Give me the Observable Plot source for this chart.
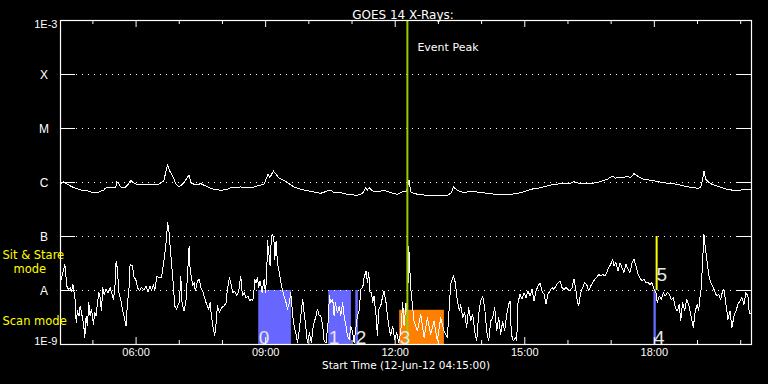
<!DOCTYPE html>
<html><head><meta charset="utf-8">
<script src="https://cdn.jsdelivr.net/npm/d3@7"></script>
<script src="https://cdn.jsdelivr.net/npm/@observablehq/plot@0.6"></script>
<style>html,body{margin:0;padding:0;background:#000;overflow:hidden;}</style>
</head><body><div id="chart"></div>
<script>
const titleText = "GOES 14 X-Rays:";
const xTitle = "Start Time (12-Jun-12 04:15:00)";
const hourDomain = [4.25, 20.25];
const majorTickHours = [6, 9, 12, 15, 18];
const majorTickLabels = ["06:00", "09:00", "12:00", "15:00", "18:00"];
const minorTickHours = [5, 7, 8, 10, 11, 13, 14, 16, 17, 19, 20];
const decadeFlux = [1e-9, 1e-8, 1e-7, 1e-6, 1e-5, 1e-4, 1e-3];
const decadeLabels = ["1E-9", "A", "B", "C", "M", "X", "1E-3"];

// [hour UT, log10 flux]
const longChannel = [
[4.257,-6.033],[4.326,-5.985],[4.396,-6.028],[4.558,-6.096],[4.72,-6.139],[4.882,-6.157],[5.021,-6.189],[5.113,-6.189],
[5.183,-6.157],[5.252,-6.148],[5.275,-6.107],[5.414,-6.083],[5.484,-6.089],[5.53,-6.083],[5.553,-5.985],[5.6,-6.028],
[5.646,-6.083],[5.739,-6.096],[5.808,-6.046],[5.877,-5.959],[5.947,-6.009],[6.039,-6.046],[6.109,-6.046],[6.34,-6.046],
[6.502,-6.046],[6.572,-6.004],[6.641,-5.972],[6.727,-5.676],[6.78,-5.787],[6.849,-5.880],[6.919,-6.028],[6.988,-6.083],
[7.081,-6.028],[7.227,-5.861],[7.266,-6.004],[7.382,-6.046],[7.498,-6.022],[7.66,-6.083],[7.799,-6.126],[7.961,-6.144],
[8.123,-6.126],[8.192,-6.096],[8.424,-6.083],[8.586,-6.096],[8.725,-6.083],[8.887,-6.046],[8.956,-6.046],[9.056,-5.848],
[9.095,-5.911],[9.181,-5.787],[9.303,-5.911],[9.512,-6.004],[9.651,-6.083],[9.812,-6.126],[10.12,-6.176],[10.276,-6.2],
[10.43,-6.157],[10.507,-6.144],[10.583,-6.189],[10.738,-6.189],[10.894,-6.219],[11.125,-6.237],[11.241,-6.207],[11.317,-6.096],
[11.356,-6.144],[11.394,-6.096],[11.472,-6.157],[11.588,-6.170],[11.741,-6.144],[11.896,-6.189],[12.051,-6.219],[12.167,-6.170],
[12.266,-6.157],[12.319,-5.959],[12.359,-6.170],[12.435,-6.207],[12.667,-6.231],[12.898,-6.25],[13.208,-6.237],[13.301,-6.189],
[13.347,-6.083],[13.44,-6.144],[13.593,-6.189],[13.748,-6.157],[13.903,-6.176],[14.134,-6.2],[14.442,-6.231],[14.674,-6.219],
[14.905,-6.189],[15.137,-6.126],[15.368,-6.096],[15.6,-6.046],[15.831,-6.022],[16.063,-6.015],[16.139,-5.985],[16.294,-6.022],
[16.525,-6.015],[16.681,-6.004],[16.796,-5.972],[16.912,-5.941],[17.028,-5.880],[17.104,-5.922],[17.181,-5.898],[17.296,-5.911],
[17.375,-5.880],[17.451,-5.911],[17.528,-5.837],[17.644,-5.898],[17.759,-5.941],[17.914,-5.959],[18.222,-6.004],[18.532,-6.033],
[18.764,-6.078],[18.995,-6.107],[19.072,-6.096],[19.111,-5.972],[19.148,-5.787],[19.188,-5.941],[19.303,-6.022],[19.458,-6.065],
[19.69,-6.126],[19.921,-6.157],[20.074,-6.126],[20.229,-6.126]
];

const shortChannel = [
[4.257,-7.824],[4.296,-7.700],[4.350,-7.515],[4.396,-7.916],[4.427,-7.978],[4.473,-7.947],[4.504,-8.027],[4.535,-7.885],
[4.566,-8.040],[4.597,-8.225],[4.612,-8.595],[4.643,-8.379],[4.681,-8.472],[4.705,-8.287],[4.735,-8.410],[4.766,-8.534],
[4.797,-8.719],[4.813,-8.873],[4.843,-8.472],[4.874,-8.657],[4.905,-8.225],[4.936,-8.472],[4.967,-8.348],[5.013,-8.626],
[5.044,-8.410],[5.075,-8.472],[5.106,-8.225],[5.137,-8.040],[5.167,-8.132],[5.198,-8.379],[5.229,-7.947],[5.260,-8.071],
[5.306,-7.978],[5.353,-8.040],[5.399,-7.947],[5.453,-8.101],[5.476,-8.163],[5.507,-7.978],[5.538,-7.453],[5.569,-7.608],
[5.600,-8.040],[5.646,-8.163],[5.684,-8.348],[5.723,-8.472],[5.769,-8.657],[5.800,-8.225],[5.831,-8.040],[5.862,-7.515],
[5.916,-7.546],[5.954,-7.762],[5.993,-7.793],[6.032,-7.947],[6.078,-8.009],[6.124,-7.947],[6.186,-7.990],[6.232,-7.916],
[6.279,-8.027],[6.325,-7.916],[6.356,-8.009],[6.402,-7.885],[6.433,-8.009],[6.479,-7.731],[6.533,-7.762],[6.587,-7.762],
[6.618,-7.608],[6.664,-7.330],[6.711,-6.990],[6.726,-6.743],[6.757,-6.867],[6.788,-7.176],[6.826,-7.546],[6.865,-7.916],
[6.896,-8.287],[6.942,-8.348],[6.973,-8.256],[7.004,-8.225],[7.035,-7.731],[7.066,-8.256],[7.112,-8.379],[7.158,-8.163],
[7.189,-7.731],[7.228,-7.176],[7.251,-7.608],[7.282,-7.762],[7.313,-7.916],[7.343,-7.855],[7.374,-8.009],[7.421,-7.824],
[7.467,-7.793],[7.498,-7.947],[7.544,-8.009],[7.575,-8.101],[7.621,-8.225],[7.652,-8.287],[7.683,-8.348],[7.714,-8.225],
[7.745,-8.472],[7.791,-8.719],[7.822,-8.842],[7.853,-8.595],[7.884,-8.287],[7.930,-8.410],[7.976,-8.318],[8.038,-8.287],
[8.084,-8.225],[8.115,-7.978],[8.161,-7.762],[8.192,-7.855],[8.238,-8.040],[8.285,-8.009],[8.331,-8.101],[8.377,-8.009],
[8.424,-7.731],[8.463,-8.101],[8.501,-8.040],[8.547,-8.132],[8.594,-8.101],[8.625,-8.194],[8.671,-8.163],[8.702,-8.194],
[8.733,-7.978],[8.748,-7.793],[8.779,-7.855],[8.810,-7.762],[8.841,-7.947],[8.872,-7.824],[8.918,-8.040],[8.964,-7.793],
[8.995,-8.040],[9.026,-7.731],[9.041,-7.083],[9.072,-7.299],[9.103,-7.546],[9.134,-6.990],[9.165,-6.960],[9.196,-7.114],
[9.211,-7.422],[9.242,-7.083],[9.273,-7.484],[9.319,-7.669],[9.365,-7.916],[9.396,-8.009],[9.427,-8.101],[9.473,-8.225],
[9.504,-8.348],[9.551,-8.225],[9.581,-8.040],[9.628,-8.472],[9.659,-8.657],[9.705,-8.811],[9.736,-8.966],[9.782,-8.719],
[9.813,-8.472],[9.859,-8.163],[9.890,-8.410],[9.936,-8.719],[9.967,-8.966],[10.013,-8.781],[10.060,-8.966],[10.091,-8.719],
[10.122,-8.595],[10.168,-8.472],[10.199,-8.348],[10.245,-8.472],[10.276,-8.472],[10.322,-8.657],[10.353,-8.935],[10.400,-8.966],
[10.446,-8.595],[10.477,-8.101],[10.507,-8.225],[10.554,-8.163],[10.585,-8.472],[10.615,-8.225],[10.662,-8.410],[10.708,-8.287],
[10.739,-8.472],[10.785,-8.225],[10.816,-8.472],[10.862,-8.657],[10.893,-8.842],[10.939,-8.904],[10.970,-8.657],[11.017,-8.781],
[11.047,-8.966],[11.094,-8.657],[11.125,-8.472],[11.171,-8.348],[11.202,-7.978],[11.248,-7.947],[11.279,-7.762],[11.325,-7.639],
[11.356,-7.855],[11.387,-7.669],[11.418,-8.040],[11.449,-8.040],[11.480,-8.225],[11.510,-8.101],[11.557,-8.472],[11.588,-8.842],
[11.618,-8.348],[11.665,-8.287],[11.711,-8.101],[11.742,-8.009],[11.788,-8.225],[11.819,-8.472],[11.865,-8.719],[11.896,-8.842],
[11.942,-8.657],[11.989,-8.904],[12.035,-8.781],[12.081,-8.966],[12.128,-8.781],[12.174,-8.225],[12.205,-8.657],[12.251,-8.225],
[12.282,-8.472],[12.313,-7.176],[12.359,-7.948],[12.436,-8.565],[12.513,-8.750],[12.591,-8.441],[12.668,-8.873],[12.745,-8.503],
[12.822,-8.812],[12.899,-8.565],[12.976,-8.935],[13.054,-8.503],[13.131,-8.750],[13.208,-8.873],[13.285,-7.886],[13.347,-7.731],
[13.393,-7.855],[13.439,-8.194],[13.486,-8.380],[13.516,-8.256],[13.563,-8.503],[13.609,-8.411],[13.655,-8.688],[13.702,-8.318],
[13.748,-8.565],[13.794,-8.441],[13.841,-8.750],[13.887,-8.935],[13.933,-8.441],[13.979,-8.194],[14.026,-8.102],[14.072,-8.318],
[14.118,-8.750],[14.165,-8.935],[14.211,-8.565],[14.257,-8.503],[14.304,-8.318],[14.350,-8.750],[14.396,-8.503],[14.442,-8.812],
[14.489,-8.565],[14.535,-8.750],[14.581,-8.441],[14.628,-8.256],[14.658,-8.194],[14.689,-8.812],[14.736,-8.935],[14.782,-8.873],
[14.813,-8.935],[14.844,-8.225],[14.890,-8.071],[14.936,-8.164],[14.983,-8.040],[15.029,-8.133],[15.075,-8.009],[15.121,-8.102],
[15.168,-7.978],[15.214,-8.194],[15.260,-8.009],[15.307,-7.917],[15.353,-7.855],[15.399,-8.009],[15.446,-8.071],[15.492,-8.256],
[15.538,-8.071],[15.584,-8.009],[15.631,-7.948],[15.677,-7.978],[15.723,-7.917],[15.770,-7.855],[15.816,-7.824],[15.862,-7.948],
[15.909,-7.978],[15.955,-7.948],[16.001,-7.978],[16.047,-8.009],[16.094,-7.948],[16.140,-7.793],[16.186,-8.009],[16.217,-8.194],
[16.248,-8.287],[16.294,-8.040],[16.341,-7.948],[16.387,-7.855],[16.433,-7.886],[16.479,-8.009],[16.526,-7.917],[16.572,-7.855],
[16.618,-7.793],[16.665,-7.762],[16.711,-7.701],[16.757,-7.731],[16.804,-7.701],[16.850,-7.731],[16.896,-7.670],[16.942,-7.577],
[16.989,-7.515],[17.035,-7.423],[17.066,-7.546],[17.112,-7.485],[17.159,-7.639],[17.205,-7.485],[17.251,-7.577],[17.297,-7.670],
[17.344,-7.515],[17.390,-7.608],[17.436,-7.670],[17.483,-7.485],[17.529,-7.423],[17.575,-7.546],[17.622,-7.701],[17.668,-7.762],
[17.714,-7.824],[17.760,-7.793],[17.807,-7.855],[17.853,-7.855],[17.899,-7.886],[17.946,-7.855],[17.992,-7.978],[18.038,-8.040],
[18.069,-8.225],[18.115,-8.102],[18.162,-8.164],[18.208,-8.040],[18.254,-8.102],[18.301,-8.040],[18.347,-8.071],[18.393,-8.164],
[18.440,-8.133],[18.486,-8.318],[18.532,-8.380],[18.578,-8.256],[18.609,-8.565],[18.655,-8.225],[18.702,-8.380],[18.748,-8.164],
[18.794,-8.256],[18.825,-8.380],[18.871,-8.565],[18.902,-8.688],[18.948,-8.380],[18.995,-8.256],[19.026,-8.380],[19.056,-8.133],
[19.087,-7.948],[19.118,-7.454],[19.149,-6.960],[19.180,-7.207],[19.211,-7.392],[19.257,-7.701],[19.304,-7.855],[19.350,-7.917],
[19.396,-8.009],[19.442,-8.102],[19.489,-8.071],[19.535,-8.164],[19.581,-8.009],[19.612,-7.978],[19.658,-8.256],[19.705,-8.534],
[19.751,-8.380],[19.797,-8.688],[19.844,-8.472],[19.890,-8.380],[19.936,-8.256],[19.982,-8.194],[20.029,-8.133],[20.075,-8.256],
[20.121,-8.040],[20.168,-8.102],[20.198,-8.411],[20.25,-8.442]
];

const eventPeakHour = 12.282;
const eventLabel = "Event Peak";

// observation intervals
const obsIds = ["0", "1", "2", "3", "4"];
const obsStart = [8.840, 10.461, 11.086, 12.104, 17.991];
const obsEnd = [9.597, 10.986, 11.148, 13.139, 18.046];
const obsTopFlux = [1e-8, 1e-8, 1e-8, 4.3e-9, 1e-8];
const obsKind = ["scan", "scan", "scan", "other", "scan"];
const sitStareId = "5";
const sitStareHour = 18.053;
const sitStareFlux = [1e-8, 1e-7];
const modeLabels = ["Sit & Stare", "mode", "Scan mode"];

const longData = longChannel.map(([h, l]) => ({h, f: Math.pow(10, l)}));
const shortData = shortChannel.map(([h, l]) => ({h, f: Math.pow(10, l)}));
const obs = obsIds.map((id, i) => ({id, x1: obsStart[i], x2: obsEnd[i], top: obsTopFlux[i], kind: obsKind[i]}));
const kindColor = {scan: "#6767ff", other: "#ff8000"};
const decades = decadeFlux.map((f, i) => ({f, label: decadeLabels[i]}));
const inner = decadeFlux.slice(1, -1);
const FONT = "Liberation Sans, Arial, sans-serif";
const WIDE = "DejaVu Sans, sans-serif";

const chart = Plot.plot({
  width: 768, height: 384,
  marginLeft: 60, marginRight: 17, marginTop: 20, marginBottom: 40,
  style: {background: "#000", color: "#fff", fontFamily: FONT, fontSize: "11px"},
  x: {domain: hourDomain, axis: null},
  y: {type: "log", domain: [1e-9, 1e-3], axis: null},
  marks: [
    Plot.rect(obs, {x1: "x1", x2: "x2", y1: () => 1e-9, y2: "top", fill: d => kindColor[d.kind]}),
    Plot.ruleY(inner, {stroke: "#fff", strokeDasharray: "1,5", insetLeft: 16, insetRight: 14}),
    Plot.ruleY(inner, {stroke: "#fff", insetRight: 676}),
    Plot.ruleY(inner, {stroke: "#fff", insetLeft: 677}),
    Plot.line(longData, {x: "h", y: "f", stroke: "#fff", strokeWidth: 1, shapeRendering: "crispEdges"}),
    Plot.line(shortData, {x: "h", y: "f", stroke: "#fff", strokeWidth: 1, shapeRendering: "crispEdges"}),
    Plot.ruleX([sitStareHour], {y1: sitStareFlux[0], y2: sitStareFlux[1], stroke: "#ffff00", strokeWidth: 2}),
    Plot.ruleX([eventPeakHour], {stroke: "#99cc00", strokeWidth: 2}),
    Plot.text(obs, {x: "x1", y: () => 1e-9, text: "id", textAnchor: "start", lineAnchor: "bottom", dx: 0, dy: -1, fontSize: 19, fill: "#e8e8e8"}),
    Plot.text([sitStareId], {x: () => sitStareHour, y: () => sitStareFlux[0], text: d => d, textAnchor: "start", lineAnchor: "bottom", dx: 0, dy: -10, fontSize: 19, fill: "#e8e8e8"}),
    Plot.text([eventLabel], {x: () => eventPeakHour, frameAnchor: "top", text: d => d, textAnchor: "start", dx: 10, dy: 23, fill: "#fff", fontFamily: WIDE}),
    Plot.frame({stroke: "#fff", strokeWidth: 1.2}),
    Plot.ruleX(majorTickHours, {stroke: "#fff", insetTop: 317}),
    Plot.ruleX(majorTickHours, {stroke: "#fff", insetBottom: 317}),
    Plot.ruleX(minorTickHours, {stroke: "#fff", insetTop: 320}),
    Plot.ruleX(minorTickHours, {stroke: "#fff", insetBottom: 320}),
    Plot.text(majorTickHours, {x: d => d, frameAnchor: "bottom", text: d => majorTickLabels[majorTickHours.indexOf(d)], dy: 11, fill: "#fff"}),
    Plot.text(decades.filter(d => d.label.length === 1), {y: "f", frameAnchor: "left", text: "label", dx: -16.5, dy: 0.5, textAnchor: "middle", fill: "#fff", fontSize: 12}),
    Plot.text(decades.filter(d => d.f === 1e-3), {y: "f", frameAnchor: "left", text: "label", dx: -3, dy: 3.5, textAnchor: "end", fill: "#fff"}),
    Plot.text(decades.filter(d => d.f === 1e-9), {y: "f", frameAnchor: "left", text: "label", dx: -3, dy: -3, textAnchor: "end", fill: "#fff"}),
    Plot.text([titleText], {frameAnchor: "top", text: d => d, dx: -3, dy: -10, fill: "#fff", fontFamily: WIDE, fontSize: 12}),
    Plot.text([xTitle], {frameAnchor: "bottom", text: d => d, dy: 24, fill: "#fff", fontFamily: WIDE, fontSize: 10.5}),
    Plot.text([modeLabels[0]], {frameAnchor: "bottom-left", text: d => d, textAnchor: "start", dx: -58, dy: -86, fill: "#ffff00", fontFamily: WIDE, fontSize: 11.5}),
    Plot.text([modeLabels[1]], {frameAnchor: "bottom-left", text: d => d, textAnchor: "start", dx: -47, dy: -72, fill: "#ffff00", fontFamily: WIDE, fontSize: 11.5}),
    Plot.text([modeLabels[2]], {frameAnchor: "bottom-left", text: d => d, textAnchor: "start", dx: -58, dy: -20, fill: "#ffff00", fontFamily: WIDE, fontSize: 11.5})
  ]
});
document.getElementById("chart").appendChild(chart);
</script>
</body></html>
